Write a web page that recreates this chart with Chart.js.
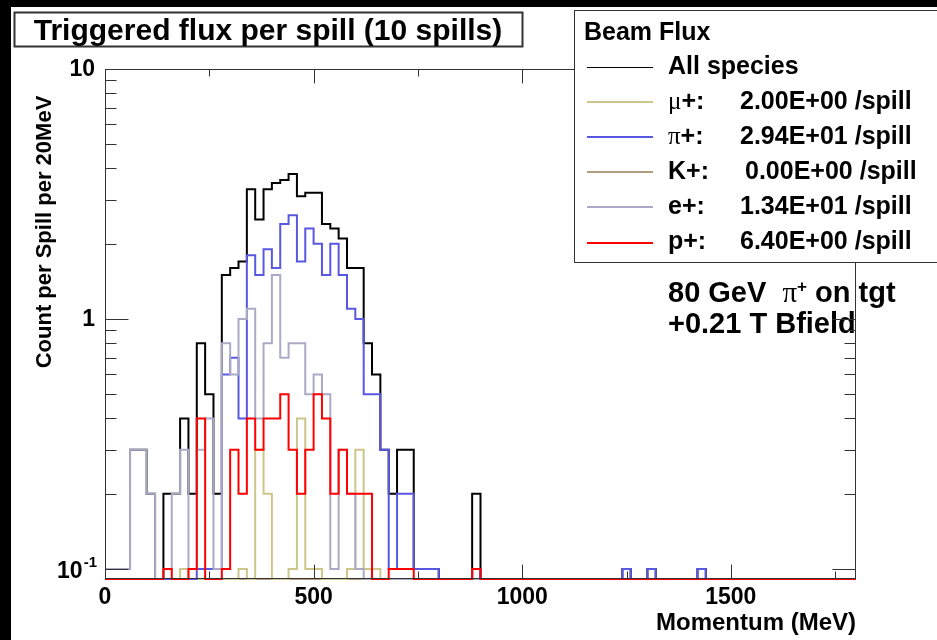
<!DOCTYPE html>
<html>
<head>
<meta charset="utf-8">
<script src="https://cdn.jsdelivr.net/npm/chart.js@4.4.1/dist/chart.umd.min.js"></script>
<style>
  html, body { margin: 0; padding: 0; background: #fff; }
  #wrap { width: 937px; height: 640px; }
</style>
</head>
<body>
<div id="wrap"><canvas id="flux" width="937" height="640"></canvas></div>
<script>
// histogram: 90 bins of 20 MeV, counts per spill (10 spills)
const binWidthMeV = 20;
const momentumMax = 1800;
const yAxisMin = 0.0912;
const yAxisMax = 10;

const allSpecies = [
  0.1, 0.1, 0.1, 0.3, 0.3, 0.2, 0, 0.2, 0.2, 0.4,
  0.2, 0.8, 0.5, 0.2, 1.5, 1.6, 1.7, 3.3, 2.5, 3.3,
  3.5, 3.6, 3.8, 3.1, 3.2, 3.2, 2.4, 2.3, 2.1, 1.6,
  1.6, 0.8, 0.6, 0.3, 0.2, 0.3, 0.3, 0.1, 0.1, 0.1,
  0, 0, 0, 0, 0.2, 0, 0, 0, 0, 0,
  0, 0, 0, 0, 0, 0, 0, 0, 0, 0,
  0, 0, 0.1, 0, 0, 0.1, 0, 0, 0, 0,
  0, 0.1, 0, 0, 0, 0, 0, 0, 0, 0,
  0, 0, 0, 0, 0, 0, 0, 0, 0, 0
];
const muPlus = [
  0, 0, 0, 0, 0, 0, 0, 0, 0, 0.1,
  0, 0, 0, 0, 0, 0, 0.1, 0, 0.3, 0.2,
  0, 0, 0.1, 0.4, 0.1, 0.1, 0, 0, 0, 0.1,
  0.3, 0.1, 0.1, 0, 0, 0, 0, 0, 0, 0,
  0, 0, 0, 0, 0, 0, 0, 0, 0, 0,
  0, 0, 0, 0, 0, 0, 0, 0, 0, 0,
  0, 0, 0, 0, 0, 0, 0, 0, 0, 0,
  0, 0, 0, 0, 0, 0, 0, 0, 0, 0,
  0, 0, 0, 0, 0, 0, 0, 0, 0, 0
];
const piPlus = [
  0, 0, 0, 0, 0, 0, 0, 0, 0, 0,
  0, 0.1, 0.1, 0.1, 0.6, 0.7, 0.4, 1.8, 1.5, 1.9,
  1.6, 2.4, 2.6, 1.7, 2.3, 2.0, 1.5, 2.0, 1.5, 1.1,
  1.0, 0.5, 0.5, 0.3, 0.1, 0.2, 0.2, 0.1, 0.1, 0.1,
  0, 0, 0, 0, 0.1, 0, 0, 0, 0, 0,
  0, 0, 0, 0, 0, 0, 0, 0, 0, 0,
  0, 0, 0.1, 0, 0, 0.1, 0, 0, 0, 0,
  0, 0.1, 0, 0, 0, 0, 0, 0, 0, 0,
  0, 0, 0, 0, 0, 0, 0, 0, 0, 0
];
const kPlus = [
  0, 0, 0, 0, 0, 0, 0, 0, 0, 0,
  0, 0, 0, 0, 0, 0, 0, 0, 0, 0,
  0, 0, 0, 0, 0, 0, 0, 0, 0, 0,
  0, 0, 0, 0, 0, 0, 0, 0, 0, 0,
  0, 0, 0, 0, 0, 0, 0, 0, 0, 0,
  0, 0, 0, 0, 0, 0, 0, 0, 0, 0,
  0, 0, 0, 0, 0, 0, 0, 0, 0, 0,
  0, 0, 0, 0, 0, 0, 0, 0, 0, 0,
  0, 0, 0, 0, 0, 0, 0, 0, 0, 0
];
const ePlus = [
  0.1, 0.1, 0.1, 0.3, 0.3, 0.2, 0, 0.1, 0.2, 0.3,
  0.1, 0.3, 0.4, 0.1, 0.8, 0.6, 1.0, 1.1, 0.4, 0.8,
  1.5, 0.7, 0.8, 0.8, 0.5, 0.6, 0.5, 0.1, 0.3, 0.2,
  0.1, 0, 0, 0, 0, 0, 0, 0, 0, 0,
  0, 0, 0, 0, 0, 0, 0, 0, 0, 0,
  0, 0, 0, 0, 0, 0, 0, 0, 0, 0,
  0, 0, 0, 0, 0, 0, 0, 0, 0, 0,
  0, 0, 0, 0, 0, 0, 0, 0, 0, 0,
  0, 0, 0, 0, 0, 0, 0, 0, 0, 0
];
const pPlus = [
  0, 0, 0, 0, 0, 0, 0, 0.1, 0, 0,
  0.1, 0.4, 0, 0, 0.1, 0.3, 0.2, 0.4, 0.3, 0.4,
  0.4, 0.5, 0.3, 0.2, 0.3, 0.5, 0.4, 0.2, 0.3, 0.2,
  0.2, 0.2, 0, 0, 0.1, 0.1, 0.1, 0, 0, 0,
  0, 0, 0, 0, 0.1, 0, 0, 0, 0, 0,
  0, 0, 0, 0, 0, 0, 0, 0, 0, 0,
  0, 0, 0, 0, 0, 0, 0, 0, 0, 0,
  0, 0, 0, 0, 0, 0, 0, 0, 0, 0,
  0, 0, 0, 0, 0, 0, 0, 0, 0, 0
];

// legend text
const speciesLabels = ['μ', 'π', 'K', 'e', 'p'];
const fluxPerSpill = ['2.00E+00', '2.94E+01', '0.00E+00', '1.34E+01', '6.40E+00'];
const speciesColors = ['#ccc68a', '#5858e2', '#b49c80', '#aaaac6', '#ff0000'];

// axis ticks
const xMajorTicks = [0, 500, 1000, 1500];
const xMinorTicks = [250, 750, 1250, 1750];
const yMajorTicks = [0.1, 1, 10];
const yMinorTicks = [0.2, 0.3, 0.4, 0.5, 0.6, 0.7, 0.8, 0.9, 2, 3, 4, 5, 6, 7, 8, 9];

const SANS = '"Liberation Sans", Arial, sans-serif';
const SERIF = '"Liberation Serif", "DejaVu Serif", serif';

// empty bins sit on the frame bottom, like ROOT does on a log axis
function histPoints(values) {
    const pts = values.map((v, i) => ({ x: i * binWidthMeV, y: v > 0 ? v : yAxisMin }));
    pts.push({ x: momentumMax, y: pts[pts.length - 1].y });
    return pts;
}

function histDataset(label, values, color, order, width) {
    return {
        label: label,
        data: histPoints(values),
        borderColor: color,
        borderWidth: width,
        stepped: true,
        pointRadius: 0,
        fill: false,
        clip: 4,
        order: order
    };
}

// ROOT style frame, ticks and texts
const rootStyle = {
    id: 'rootStyle',
    beforeDraw(chart) {
        const c = chart.ctx;
        c.save();
        c.fillStyle = '#fff';
        c.fillRect(0, 0, chart.width, chart.height);
        c.fillStyle = '#000';
        c.fillRect(0, 0, 11, chart.height);
        c.fillRect(0, 0, chart.width, 7);
        c.restore();
    },
    afterDatasetsDraw(chart) {
        const c = chart.ctx;
        const xs = chart.scales.x, ys = chart.scales.y, a = chart.chartArea;
        c.save();

        // beam annotation
        c.fillStyle = '#000';
        c.textBaseline = 'alphabetic';
        c.textAlign = 'left';
        let tx = 668;
        c.font = 'bold 29px ' + SANS;
        c.fillText('80 GeV  ', tx, 302);
        tx += c.measureText('80 GeV  ').width;
        c.font = '29px ' + SERIF;
        c.fillText('π', tx, 302);
        tx += c.measureText('π').width;
        c.font = 'bold 17px ' + SANS;
        c.fillText('+', tx, 292);
        tx += c.measureText('+').width;
        c.font = 'bold 29px ' + SANS;
        c.fillText(' on tgt', tx, 302);
        c.fillText('+0.21 T Bfield', 668, 333);

        // frame
        const L = Math.round(a.left) + 0.5, R = Math.round(a.right) - 0.5;
        const T = Math.round(a.top) + 0.5, B = Math.round(a.bottom) - 0.5;
        c.strokeStyle = '#333';
        c.lineWidth = 1;
        c.strokeRect(L, T, R - L, B - T);

        c.beginPath();
        xMajorTicks.concat(xMinorTicks).forEach(v => {
            const len = xMajorTicks.includes(v) ? 14 : 7;
            const px = Math.round(xs.getPixelForValue(v)) + 0.5;
            c.moveTo(px, B); c.lineTo(px, B - len);
            c.moveTo(px, T); c.lineTo(px, T + len);
        });
        yMajorTicks.concat(yMinorTicks).forEach(v => {
            const len = yMajorTicks.includes(v) ? 23 : 11;
            const py = Math.round(ys.getPixelForValue(v)) + 0.5;
            c.moveTo(L, py); c.lineTo(L + len, py);
            c.moveTo(R, py); c.lineTo(R - len, py);
        });
        c.stroke();

        // tick labels
        c.fillStyle = '#000';
        c.font = 'bold 23px ' + SANS;
        c.textAlign = 'center';
        c.textBaseline = 'alphabetic';
        xMajorTicks.forEach(v => c.fillText(String(v), xs.getPixelForValue(v), 604));

        c.textBaseline = 'middle';
        c.textAlign = 'right';
        yMajorTicks.forEach(v => {
            const py = ys.getPixelForValue(v);
            if (v >= 1) {
                c.font = 'bold 23px ' + SANS;
                c.fillText(String(v), 95, py + 1);
            } else {
                const exp = String(Math.round(Math.log10(v)));
                c.font = 'bold 15px ' + SANS;
                c.fillText(exp, 97, py - 6);
                const w = c.measureText(exp).width;
                c.font = 'bold 23px ' + SANS;
                c.fillText('10', 97 - w - 1, py + 3);
            }
        });

        // axis titles
        c.font = 'bold 24px ' + SANS;
        c.textAlign = 'right';
        c.textBaseline = 'alphabetic';
        c.fillText('Momentum (MeV)', 856, 630);

        c.translate(45, 232);
        c.rotate(-Math.PI / 2);
        c.textAlign = 'center';
        c.textBaseline = 'middle';
        c.font = 'bold 22px ' + SANS;
        c.fillText('Count per Spill per 20MeV', 0, 0);
        c.restore();
    },
    afterDraw(chart) {
        const c = chart.ctx;
        c.save();
        // legend box
        c.fillStyle = '#fff';
        c.fillRect(574, 10, 400, 252);
        c.strokeStyle = '#333';
        c.lineWidth = 1;
        c.strokeRect(574.5, 10.5, 400, 252);

        c.fillStyle = '#000';
        c.textBaseline = 'middle';
        c.textAlign = 'left';
        c.font = 'bold 25px ' + SANS;
        c.fillText('Beam Flux', 584, 33);

        const rowY = i => 67 + 35.1 * i;
        c.beginPath();
        c.strokeStyle = '#000';
        c.lineWidth = 1;
        c.moveTo(587, Math.round(rowY(0)) + 0.5);
        c.lineTo(653, Math.round(rowY(0)) + 0.5);
        c.stroke();
        c.fillText('All species', 668, rowY(0));

        speciesLabels.forEach((s, i) => {
            const y = rowY(i + 1);
            c.beginPath();
            c.strokeStyle = speciesColors[i];
            c.lineWidth = 2;
            c.moveTo(587, Math.round(y));
            c.lineTo(653, Math.round(y));
            c.stroke();
            let lx = 668;
            if (s === 'μ' || s === 'π') {
                c.font = '25px ' + SERIF;
            } else {
                c.font = 'bold 25px ' + SANS;
            }
            c.fillText(s, lx, y);
            lx += c.measureText(s).width;
            c.font = 'bold 25px ' + SANS;
            c.fillText('+:', lx, y);
            const vx = fluxPerSpill[i].startsWith('0.00') ? 745 : 740;
            c.fillText(fluxPerSpill[i] + ' /spill', vx, y);
        });

        // title box
        c.fillStyle = '#fff';
        c.fillRect(14, 12, 508, 34);
        c.strokeStyle = '#333';
        c.strokeRect(14.5, 12.5, 508, 34);
        c.fillStyle = '#000';
        c.textAlign = 'center';
        c.textBaseline = 'alphabetic';
        c.font = 'bold 30px ' + SANS;
        c.fillText('Triggered flux per spill (10 spills)', 268, 40);
        c.restore();
    }
};

const ctx = document.getElementById('flux').getContext('2d');
const fluxChart = new Chart(ctx, {
    type: 'line',
    data: {
        datasets: [
            histDataset('All species', allSpecies, '#000000', 5, 2),
            histDataset('mu+', muPlus, speciesColors[0], 3, 2),
            histDataset('pi+', piPlus, speciesColors[1], 2, 2),
            histDataset('K+', kPlus, speciesColors[2], 4, 2),
            histDataset('e+', ePlus, speciesColors[3], 1, 2),
            histDataset('p+', pPlus, speciesColors[4], 0, 2)
        ]
    },
    options: {
        responsive: false,
        animation: false,
        events: [],
        layout: { padding: { left: 105, top: 69, right: 81, bottom: 61 } },
        scales: {
            x: { type: 'linear', min: 0, max: momentumMax, display: false },
            y: { type: 'logarithmic', min: yAxisMin, max: yAxisMax, display: false }
        },
        plugins: {
            legend: { display: false },
            tooltip: { enabled: false }
        }
    },
    plugins: [rootStyle]
});
</script>
</body>
</html>
